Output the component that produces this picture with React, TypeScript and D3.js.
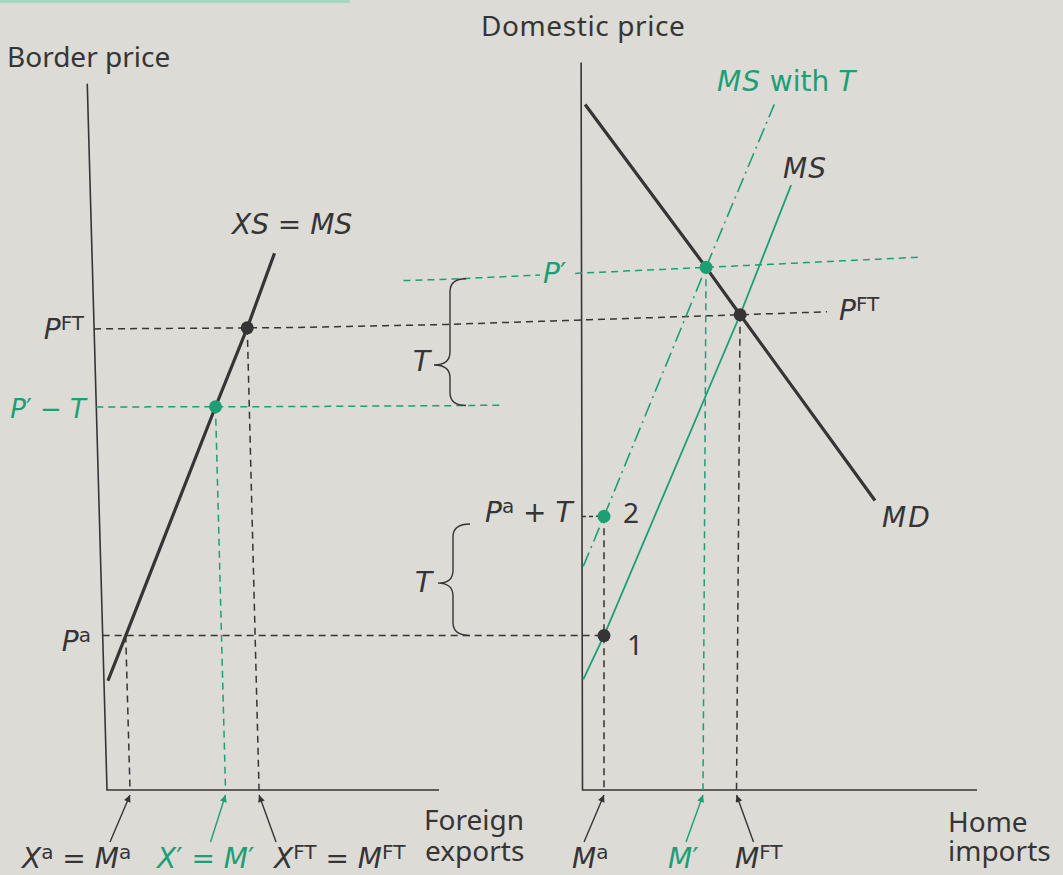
import React from "react";
import * as d3 from "d3";

const W = 1063;
const H = 875;

const INK = "#363535";
const GREEN = "#1d9f76";
const PAPER = "#dcdbd6";
const FONT = "'Noto Sans', 'Open Sans', sans-serif";
const MATH = "'DejaVu Sans', 'Noto Sans', sans-serif";

// Quantities on the foreign-exports axis: X^a, X', X^FT
const exportQty = [6.93, 35.7, 45.8];
// Quantities on the home-imports axis: M^a, M', M^FT
const importQty = [5.45, 30.55, 39.04];
// Price levels: P^a, P^a + T, P' − T, P^FT, P'
const priceLevels = [21.9, 38.6, 54.3, 65.3, 71.4];

// Curves as [quantity, price] points
const xsCurve: [number, number][] = [[1.2, 15.5], [6.93, 21.9], [35.7, 54.3], [45.8, 65.3], [54.5, 75.7]];
const mdCurve: [number, number][] = [[0.94, 95.0], [30.55, 71.4], [39.04, 65.3], [73.56, 40.6]];
const msCurve: [number, number][] = [[0.25, 15.7], [5.45, 21.9], [39.04, 65.3], [51.7, 82.0]];
const msTariffCurve: [number, number][] = [[0.3, 31.6], [5.45, 38.6], [30.55, 71.4], [47.28, 93.6]];

// Axis extents (price top of each vertical axis, quantity end of each horizontal axis)
const axisTops = [100, 101];
const axisEnds = [100, 100];

type Pt = [number, number];

export default function App() {
  const [pA, pAT, pPT, pFT, pP] = priceLevels;
  const [xA, xP, xFT] = exportQty;
  const [mA, mP, mFT] = importQty;

  const fx = d3.scaleLinear().domain([0, 100]).range([107, 439]);
  const hm = d3.scaleLinear().domain([0, 100]).range([582.5, 977]);
  const py = d3.scaleLinear().domain([0, 100]).range([790, 85]);
  const base = py(0);

  // the printed page is not flat: verticals lean on the left, horizontals rise toward the right
  const gutter = d3.scaleLinear().domain([0, 300, 450, 1063]).range([0, 60, 150, 763]);
  const rise = d3.scaleLinear().domain([250, 280, 405, 635]).range([0.055, 0.05, 0.01, 0]).clamp(true);
  const lean = d3
    .scaleLinear()
    .domain([107, 300, 582, 604, 703, 740])
    .range([0.028, 0.025, 0.002, 0, -0.006, -0.008])
    .clamp(true);
  const bend = ([x, y]: Pt): Pt => [x - lean(x) * (base - y), y - rise(y) * gutter(x)];

  const line = d3.line<Pt>();
  const curve = (pts: Pt[], xs: d3.ScaleLinear<number, number>) =>
    line(pts.map(([q, p]) => bend([xs(q), py(p)]))) || "";
  const guide = (x0: number, x1: number, y: number) => {
    const n = Math.max(2, Math.ceil(Math.abs(x1 - x0) / 6));
    return line(d3.range(n + 1).map((i) => bend([x0 + ((x1 - x0) * i) / n, y]))) || "";
  };
  const drop = (x: number, y: number) => line([bend([x, y]), bend([x, base])]) || "";
  const at = (x: number, y: number) => bend([x, y]);

  const dash = "7 5";

  // equilibrium points
  const dots: { x: number; y: number; c: string }[] = [
    { x: fx(xFT), y: py(pFT), c: INK },
    { x: fx(xP), y: py(pPT), c: GREEN },
    { x: hm(mFT), y: py(pFT), c: INK },
    { x: hm(mP), y: py(pP), c: GREEN },
    { x: hm(mA), y: py(pAT), c: GREEN },
    { x: hm(mA), y: py(pA), c: INK },
  ];

  // arrows pointing at the quantities on each horizontal axis
  const arrows: { x: number; dx: number; c: string }[] = [
    { x: fx(xA), dx: -20, c: INK },
    { x: fx(xP), dx: -15, c: GREEN },
    { x: fx(xFT), dx: 17, c: INK },
    { x: hm(mA), dx: -20, c: INK },
    { x: hm(mP), dx: -17, c: GREEN },
    { x: hm(mFT), dx: 17, c: INK },
  ];

  const brace = (xR: number, xV: number, xT: number, yT: number, yTip: number, yB: number) => {
    const r = 13;
    return `M${xR},${yT} Q${xV},${yT} ${xV},${yT + r} L${xV},${yTip - r} Q${xV},${yTip} ${xT},${yTip} Q${xV},${yTip} ${xV},${yTip + r} L${xV},${yB - r} Q${xV},${yB} ${xR},${yB}`;
  };

  const upperTop = at(fx(108), py(pP))[1];
  const upperBot = at(fx(108), py(pPT))[1];
  const lowerTop = at(fx(110), py(pAT))[1] + 7;
  const lowerBot = at(fx(110), py(pA))[1];

  const fs = 28;
  const ms = 28;
  const sup = 20;
  const up = -9;
  const ls = 1;

  const leftAxisTop = at(fx(0), py(axisTops[0]));
  const rightAxisTop = at(hm(0), py(axisTops[1]));

  return (
    <div style={{ position: "absolute", left: 0, top: 0 }}>
      <svg width={W} height={H} viewBox={`0 0 ${W} ${H}`} style={{ display: "block", fontFamily: FONT }}>
        <defs>
          <marker id="head-ink" viewBox="0 0 10 10" refX="10" refY="5" markerWidth="10" markerHeight="7" markerUnits="userSpaceOnUse" orient="auto">
            <path d="M0,0 L10,5 L0,10 z" fill={INK} />
          </marker>
          <marker id="head-green" viewBox="0 0 10 10" refX="10" refY="5" markerWidth="10" markerHeight="7" markerUnits="userSpaceOnUse" orient="auto">
            <path d="M0,0 L10,5 L0,10 z" fill={GREEN} />
          </marker>
        </defs>
        <rect x={0} y={0} width={W} height={H} fill={PAPER} />
        <rect x={0} y={0} width={350} height={3} fill="#a4d6c0" />

        {/* axes */}
        <g stroke={INK} strokeWidth={1.6} fill="none">
          <path d={line([leftAxisTop, at(fx(0), base), at(fx(axisEnds[0]), base)]) || ""} />
          <path d={line([rightAxisTop, at(hm(0), base), at(hm(axisEnds[1]), base)]) || ""} />
        </g>

        {/* horizontal price guides */}
        <g fill="none" strokeWidth={1.5} strokeDasharray={dash}>
          <path d={guide(fx(0), hm(61.04), py(pFT))} stroke={INK} />
          <path d={guide(fx(0), hm(mA), py(pA))} stroke={INK} />
          <path d={guide(hm(0), hm(mA), py(pAT))} stroke={INK} strokeDasharray="4 3" />
          <path d={guide(fx(0), fx(119.3), py(pPT))} stroke={GREEN} />
          <path d={guide(fx(91.7), hm(-10.1), py(pP))} stroke={GREEN} />
          <path d={guide(hm(-1.55), hm(84.5), py(pP))} stroke={GREEN} />
        </g>

        {/* vertical quantity guides */}
        <g fill="none" strokeWidth={1.5} strokeDasharray={dash}>
          <path d={drop(fx(xA), py(pA))} stroke={INK} />
          <path d={drop(fx(xP), py(pPT))} stroke={GREEN} />
          <path d={drop(fx(xFT), py(pFT))} stroke={INK} />
          <path d={drop(hm(mA), py(pAT))} stroke={INK} />
          <path d={drop(hm(mP), py(pP))} stroke={GREEN} />
          <path d={drop(hm(mFT), py(pFT))} stroke={INK} />
        </g>

        {/* supply and demand curves */}
        <path d={curve(msTariffCurve, hm)} fill="none" stroke={GREEN} strokeWidth={1.6} strokeDasharray="15 5 2 5" />
        <path d={curve(msCurve, hm)} fill="none" stroke={GREEN} strokeWidth={1.8} />
        <path d={curve(xsCurve, fx)} fill="none" stroke={INK} strokeWidth={3.2} />
        <path d={curve(mdCurve, hm)} fill="none" stroke={INK} strokeWidth={3.2} />

        {/* tariff braces */}
        <g fill="none" stroke={INK} strokeWidth={1.4}>
          <path d={brace(466, 450, 434, upperTop, upperTop + (upperBot - upperTop) * 0.68, upperBot)} />
          <path d={brace(470, 453, 438, lowerTop, lowerTop + (lowerBot - lowerTop) * 0.53, lowerBot)} />
        </g>

        {dots.map((d, i) => {
          const [cx, cy] = at(d.x, d.y);
          return <circle key={i} cx={cx} cy={cy} r={6.5} fill={d.c} />;
        })}

        {arrows.map((a, i) => {
          const [hx] = at(a.x, base);
          return (
            <line
              key={i}
              x1={hx + a.dx}
              y1={base + 52}
              x2={hx}
              y2={base + 5}
              stroke={a.c}
              strokeWidth={1.4}
              markerEnd={`url(#${a.c === GREEN ? "head-green" : "head-ink"})`}
            />
          );
        })}

        {/* axis titles */}
        <g fontSize={fs} fill={INK}>
          <text x={7} y={67}>Border price</text>
          <text x={481} y={36} letterSpacing={0.6}>Domestic price</text>
          <text x={424} y={830}>Foreign</text>
          <text x={425} y={861}>exports</text>
          <text x={948} y={832}>Home</text>
          <text x={948} y={861}>imports</text>
          <text x={623} y={523}>2</text>
          <text x={627} y={655}>1</text>
        </g>

        {/* symbols */}
        <g fontSize={ms} fill={INK} fontFamily={MATH}>
          <text x={232} y={234}>
            <tspan fontStyle="italic">XS</tspan>
            <tspan> = </tspan>
            <tspan fontStyle="italic">MS</tspan>
          </text>

          <text x={84} y={339} textAnchor="end">
            <tspan fontStyle="italic">P</tspan>
            <tspan fontSize={sup} dy={up}>FT</tspan>
          </text>
          <text x={91} y={651} textAnchor="end">
            <tspan fontStyle="italic">P</tspan>
            <tspan fontSize={sup} dy={up}>a</tspan>
          </text>

          <text x={413} y={371} fontStyle="italic">T</text>
          <text x={415} y={592} fontStyle="italic">T</text>

          <text x={839} y={320}>
            <tspan fontStyle="italic">P</tspan>
            <tspan fontSize={sup} dy={up}>FT</tspan>
          </text>

          <text x={485} y={522}>
            <tspan fontStyle="italic">P</tspan>
            <tspan fontSize={sup} dy={up}>a</tspan>
            <tspan dy={-up}> + </tspan>
            <tspan fontStyle="italic">T</tspan>
          </text>

          <text x={783} y={178} fontStyle="italic" letterSpacing={ls}>MS</text>
          <text x={882} y={527} fontStyle="italic" letterSpacing={ls + 1}>MD</text>

          <text x={22} y={868}>
            <tspan fontStyle="italic">X</tspan>
            <tspan fontSize={sup} dy={up}>a</tspan>
            <tspan dy={-up}> = </tspan>
            <tspan fontStyle="italic">M</tspan>
            <tspan fontSize={sup} dy={up}>a</tspan>
          </text>
          <text x={274} y={868}>
            <tspan fontStyle="italic">X</tspan>
            <tspan fontSize={sup} dy={up}>FT</tspan>
            <tspan dy={-up}> = </tspan>
            <tspan fontStyle="italic">M</tspan>
            <tspan fontSize={sup} dy={up}>FT</tspan>
          </text>
          <text x={572} y={868}>
            <tspan fontStyle="italic">M</tspan>
            <tspan fontSize={sup} dy={up}>a</tspan>
          </text>
          <text x={735} y={868}>
            <tspan fontStyle="italic">M</tspan>
            <tspan fontSize={sup} dy={up}>FT</tspan>
          </text>
        </g>

        <g fontSize={ms} fill={GREEN} fontFamily={MATH}>
          <text x={86} y={418} textAnchor="end" fontSize={26}>
            <tspan fontStyle="italic">P</tspan>
            <tspan>′ − </tspan>
            <tspan fontStyle="italic">T</tspan>
          </text>
          <text x={543} y={283}>
            <tspan fontStyle="italic">P</tspan>
            <tspan>′</tspan>
          </text>
          <text x={717} y={91}>
            <tspan fontStyle="italic" letterSpacing={ls}>MS</tspan>
            <tspan> with </tspan>
            <tspan fontStyle="italic">T</tspan>
          </text>
          <text x={157} y={868}>
            <tspan fontStyle="italic">X</tspan>
            <tspan>′ = </tspan>
            <tspan fontStyle="italic">M</tspan>
            <tspan>′</tspan>
          </text>
          <text x={668} y={868}>
            <tspan fontStyle="italic">M</tspan>
            <tspan>′</tspan>
          </text>
        </g>
      </svg>
    </div>
  );
}
